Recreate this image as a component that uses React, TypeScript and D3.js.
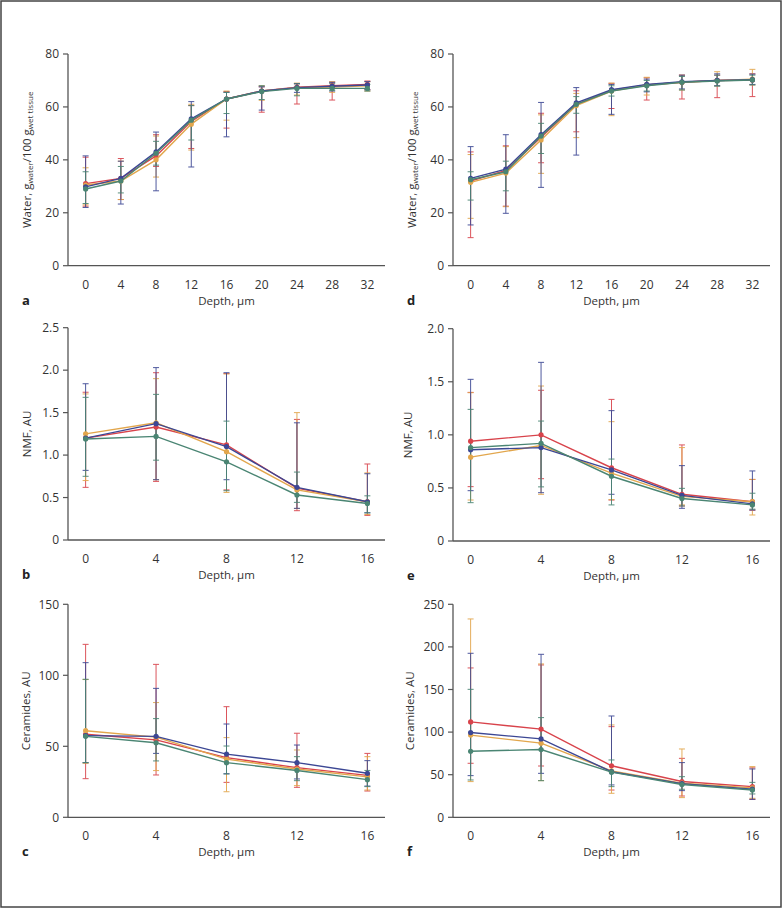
import * as d3 from 'd3';

// depth positions, µm
const depthLong = [0, 4, 8, 12, 16, 20, 24, 28, 32];
const depthShort = [0, 4, 8, 12, 16];

const seriesKeys = ['red', 'orange', 'blue', 'green'];
const seriesColors: Record<string, string> = {
  red: '#d8434b',
  orange: '#e2a64c',
  blue: '#3c4794',
  green: '#4a8573',
};

// each point: [mean, lower, upper]
const aRed = [[31, 22.5, 41], [33, 25, 40.5], [41.5, 37.5, 49.5], [54.5, 44.3, 60.5], [63, 52, 65.8], [66, 58, 67.6], [67.5, 61.1, 68.8], [68, 62.6, 69.4], [68.5, 66.5, 69.8]];
const aOrange = [[30.5, 23, 37], [32, 25, 39.5], [40, 33.5, 49], [53.5, 43.7, 61], [63, 55, 66], [66, 62.5, 68], [67.3, 64.5, 69], [67.5, 65.5, 69.5], [68, 66, 69.5]];
const aBlue = [[29.8, 22, 41.5], [33, 23.3, 39.5], [43, 28.3, 50.5], [55.5, 37.3, 62], [63, 48.7, 65.5], [66, 58.8, 67.6], [67.3, 65.5, 68.8], [67.8, 66, 69.3], [68.3, 66.5, 69.6]];
const aGreen = [[29, 23.5, 35.5], [32, 27.5, 37.5], [42.5, 38, 47], [55, 47.5, 60.5], [63, 57.5, 65.5], [65.8, 62.8, 68], [67, 64.2, 68.7], [67, 66.3, 68.8], [67, 66, 68.5]];

const dRed = [[32, 10.6, 43], [36, 22.5, 45.3], [48.5, 38.9, 57.6], [61, 50.6, 66.1], [66.3, 59.4, 68.9], [68.3, 62.6, 71], [69.3, 63, 72], [70, 63.5, 72], [70.2, 63.9, 72.5]];
const dOrange = [[31.5, 17.9, 42], [35, 22.3, 45], [47.5, 34.9, 57], [60.5, 48.4, 65.1], [66, 56.7, 69], [68.3, 64.5, 71.2], [69.3, 66.4, 72], [70, 67.9, 73.3], [70.5, 68.3, 74.2]];
const dBlue = [[33, 15.4, 45], [36.5, 19.8, 49.5], [49.5, 29.6, 61.7], [61.5, 41.8, 67.3], [66.5, 57.2, 68.5], [68.5, 65.7, 70.5], [69.5, 66.8, 72], [70, 68, 72.5], [70.3, 68.5, 72.4]];
const dGreen = [[32.5, 24.8, 35.5], [35.5, 28.3, 39.5], [49, 42.4, 53.8], [61, 57.6, 63.9], [66, 64.1, 68], [68, 66, 70], [69.3, 66.4, 71.5], [69.8, 67.9, 72], [70.2, 68.3, 72]];

const bRed = [[1.2, 0.62, 1.74], [1.33, 0.69, 1.97], [1.12, 0.59, 1.96], [0.61, 0.345, 1.42], [0.45, 0.29, 0.895]];
const bOrange = [[1.25, 0.7, 1.72], [1.38, 0.71, 1.9], [1.04, 0.56, 1.955], [0.59, 0.37, 1.5], [0.45, 0.3, 0.79]];
const bBlue = [[1.2, 0.82, 1.84], [1.37, 0.71, 2.03], [1.1, 0.71, 1.97], [0.62, 0.373, 1.38], [0.45, 0.32, 0.78]];
const bGreen = [[1.19, 0.75, 1.68], [1.22, 0.94, 1.715], [0.92, 0.58, 1.4], [0.53, 0.443, 0.8], [0.43, 0.32, 0.52]];

const eRed = [[0.94, 0.512, 1.4], [1.0, 0.587, 1.42], [0.69, 0.386, 1.334], [0.44, 0.33, 0.905], [0.37, 0.29, 0.58]];
const eOrange = [[0.79, 0.386, 1.397], [0.9, 0.44, 1.46], [0.64, 0.39, 1.124], [0.42, 0.34, 0.88], [0.37, 0.245, 0.58]];
const eBlue = [[0.86, 0.474, 1.523], [0.88, 0.455, 1.683], [0.67, 0.44, 1.228], [0.43, 0.308, 0.71], [0.35, 0.292, 0.66]];
const eGreen = [[0.88, 0.361, 1.24], [0.92, 0.51, 1.13], [0.61, 0.34, 0.772], [0.4, 0.33, 0.496], [0.34, 0.3, 0.45]];

const cRed = [[58.5, 27.2, 121.8], [54.5, 29.8, 107.7], [42, 24.6, 77.9], [35, 21.1, 59.2], [29.5, 18.5, 45]];
const cOrange = [[61, 38, 97], [56.5, 32.9, 80.8], [41, 18, 56.1], [34, 22.3, 47.4], [28.5, 19.2, 42.7]];
const cBlue = [[57.5, 38.5, 108.9], [57, 45, 90.8], [44.5, 30.7, 65.7], [38.5, 27, 50.9], [31, 22, 39.9]];
const cGreen = [[57, 38.5, 97.2], [52.5, 39.7, 69.5], [38.5, 30.5, 50.2], [33, 25.8, 42.7], [26.5, 21.6, 33]];

const fRed = [[112, 63.4, 175.3], [103.5, 60.2, 178.8], [60.5, 32, 106.4], [42, 25, 69.2], [36, 21.1, 58]];
const fOrange = [[96.5, 41.9, 232.8], [87, 43, 180], [54.5, 28.2, 108.4], [40, 23.1, 80.2], [34.5, 22.3, 59.5]];
const fBlue = [[99.5, 48.9, 192.5], [92, 51.6, 191.3], [53.5, 38, 118.9], [39.5, 31.3, 64.2], [33, 21.1, 56.7]];
const fGreen = [[77.5, 43.8, 150.2], [79.5, 43, 117], [53, 36, 67.3], [38.5, 32.9, 47.7], [32, 27.4, 41]];

const waterTicks = [0, 20, 40, 60, 80];
const nmfTicksB = [0, 0.5, 1.0, 1.5, 2.0, 2.5];
const nmfTicksE = [0, 0.5, 1.0, 1.5, 2.0];
const cerTicksC = [0, 50, 100, 150];
const cerTicksF = [0, 50, 100, 150, 200, 250];

const FONT = '"Open Sans", "DejaVu Sans", sans-serif';
const AXIS = '#555';
const TXT = '#333';

type Pt = number[];

function WaterLabel() {
  return (
    <>
      Water, g<tspan fontSize={8} dy={2}>water</tspan>
      <tspan dy={-2}>/100 g</tspan>
      <tspan fontSize={8} dy={2}>wet tissue</tspan>
    </>
  );
}

function Panel({ x0, x1, yBottom, yTop, depths, xMax, ticks, fmt, series, ylabel, letter, labelX }: {
  x0: number; x1: number; yBottom: number; yTop: number; depths: number[]; xMax: number;
  ticks: number[]; fmt: (d: number) => string; series: Record<string, Pt[]>;
  ylabel: any; letter: string; labelX: number;
}) {
  const pad = xMax / 16;
  const x = d3.scaleLinear().domain([-pad, xMax + pad]).range([x0, x1]);
  const y = d3.scaleLinear().domain([0, ticks[ticks.length - 1]]).range([yBottom, yTop]);
  const line = d3.line<Pt>().x((_, i) => x(depths[i])).y(d => y(d[0]));
  const cx = (x0 + x1) / 2;

  return (
    <g fontFamily={FONT}>
      {/* error bars */}
      {seriesKeys.map(k => (
        <g key={'e' + k} stroke={seriesColors[k]} strokeWidth={1} opacity={0.9}>
          {series[k].map((d, i) => {
            const px = x(depths[i]);
            return (
              <g key={i}>
                <line x1={px} x2={px} y1={y(d[1])} y2={y(d[2])} />
                <line x1={px - 3} x2={px + 3} y1={y(d[1])} y2={y(d[1])} />
                <line x1={px - 3} x2={px + 3} y1={y(d[2])} y2={y(d[2])} />
              </g>
            );
          })}
        </g>
      ))}
      {/* lines and markers */}
      {seriesKeys.map(k => (
        <g key={'l' + k}>
          <path d={line(series[k]) || ''} fill="none" stroke={seriesColors[k]} strokeWidth={1.4} />
          {series[k].map((d, i) => (
            <circle key={i} cx={x(depths[i])} cy={y(d[0])} r={2.6} fill={seriesColors[k]} />
          ))}
        </g>
      ))}
      {/* axes */}
      <line x1={x0} x2={x0} y1={yBottom} y2={yTop} stroke={AXIS} strokeWidth={1.3} />
      <line x1={x0} x2={x1} y1={yBottom} y2={yBottom} stroke={AXIS} strokeWidth={1.3} />
      {ticks.map(t => (
        <g key={t}>
          <line x1={x0 - 5} x2={x0} y1={y(t)} y2={y(t)} stroke={AXIS} strokeWidth={1.2} />
          <text x={x0 - 9} y={y(t)} dy="0.35em" textAnchor="end" fontSize={12} fill={TXT}>{fmt(t)}</text>
        </g>
      ))}
      {depths.map(dp => (
        <text key={dp} x={x(dp)} y={yBottom + 23} textAnchor="middle" fontSize={12} fill={TXT}>{dp}</text>
      ))}
      <text x={cx} y={yBottom + 39} textAnchor="middle" fontSize={11.5} fill={TXT}>Depth, µm</text>
      <text x={x0 - 46} y={yBottom + 39} fontSize={13} fontWeight="bold" fill="#222">{letter}</text>
      <text transform={`translate(${labelX},${(yBottom + yTop) / 2}) rotate(-90)`} textAnchor="middle"
        fontSize={11.5} fill={TXT}>{ylabel}</text>
    </g>
  );
}

const fmtInt = (d: number) => String(d);
const fmtDec = (d: number) => (d === 0 ? '0' : d3.format('.1f')(d));

export default function App() {
  return (
    <svg width={783} height={909} style={{ position: 'absolute', left: 0, top: 0, background: '#fff' }}>
      <rect x={1} y={1} width={780} height={906} fill="#fff" stroke="#444" strokeWidth={1.5} />
      <Panel x0={68} x1={385} yBottom={265.7} yTop={54} depths={depthLong} xMax={32} ticks={waterTicks}
        fmt={fmtInt} series={{ red: aRed, orange: aOrange, blue: aBlue, green: aGreen }}
        ylabel={<WaterLabel />} letter="a" labelX={31} />
      <Panel x0={453} x1={770} yBottom={265.7} yTop={54} depths={depthLong} xMax={32} ticks={waterTicks}
        fmt={fmtInt} series={{ red: dRed, orange: dOrange, blue: dBlue, green: dGreen }}
        ylabel={<WaterLabel />} letter="d" labelX={416} />
      <Panel x0={68} x1={385} yBottom={540} yTop={327.7} depths={depthShort} xMax={16} ticks={nmfTicksB}
        fmt={fmtDec} series={{ red: bRed, orange: bOrange, blue: bBlue, green: bGreen }}
        ylabel="NMF, AU" letter="b" labelX={31} />
      <Panel x0={453} x1={770} yBottom={541} yTop={328.7} depths={depthShort} xMax={16} ticks={nmfTicksE}
        fmt={fmtDec} series={{ red: eRed, orange: eOrange, blue: eBlue, green: eGreen }}
        ylabel="NMF, AU" letter="e" labelX={412} />
      <Panel x0={68} x1={385} yBottom={817.3} yTop={604.3} depths={depthShort} xMax={16} ticks={cerTicksC}
        fmt={fmtInt} series={{ red: cRed, orange: cOrange, blue: cBlue, green: cGreen }}
        ylabel="Ceramides, AU" letter="c" labelX={30} />
      <Panel x0={453} x1={770} yBottom={817.3} yTop={604.3} depths={depthShort} xMax={16} ticks={cerTicksF}
        fmt={fmtInt} series={{ red: fRed, orange: fOrange, blue: fBlue, green: fGreen }}
        ylabel="Ceramides, AU" letter="f" labelX={414} />
    </svg>
  );
}
